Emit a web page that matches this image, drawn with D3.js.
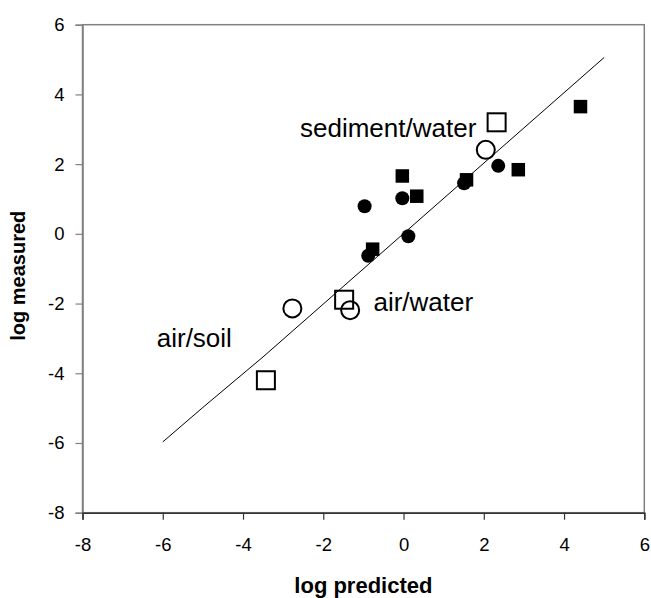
<!DOCTYPE html>
<html>
<head>
<meta charset="utf-8">
<script src="https://cdn.jsdelivr.net/npm/d3@7"></script>
<style>
  html, body { margin: 0; padding: 0; background: #fff; }
  svg { display: block; font-family: Arial, "Liberation Sans", sans-serif; }
</style>
</head>
<body>
<svg id="chart" width="651" height="598"></svg>
<script>
// Axis ticks
const xTicks = [-8, -6, -4, -2, 0, 2, 4, 6];
const yTicks = [-8, -6, -4, -2, 0, 2, 4, 6];

// Solid markers: squares and circles (log predicted, log measured)
const filledSquareX = [-0.03, 0.33, -0.77, 1.57, 2.86, 4.41];
const filledSquareY = [1.66, 1.08, -0.44, 1.55, 1.84, 3.65];
const filledCircleX = [-0.97, -0.03, 0.12, -0.88, 1.51, 2.36];
const filledCircleY = [0.79, 1.02, -0.07, -0.63, 1.45, 1.95];

// Open markers: partition coefficients
const openSquareX = [2.32, -1.48, -3.43];
const openSquareY = [3.20, -1.89, -4.20];
const openCircleX = [2.05, -2.77, -1.33];
const openCircleY = [2.41, -2.14, -2.19];

// Fitted line vertices
const lineX = [-6, -5, -3.5, 5];
const lineY = [-5.97, -4.98, -3.53, 5.06];

// Annotation labels
const labelText = ["sediment/water", "air/water", "air/soil"];
const labelX = [-2.58, -0.75, -6.15];
const labelY = [2.79, -2.22, -3.26];

const svg = d3.select("#chart");
const plotLeft = 82.5, plotRight = 644.3, plotTop = 24.7, plotBottom = 512.7;

const x = d3.scaleLinear().domain([-8, 6]).range([plotLeft, plotRight]);
const y = d3.scaleLinear().domain([-8, 6]).range([plotBottom, plotTop]);
const tickFmt = d => String(d);

svg.append("rect").attr("width", 651).attr("height", 598).attr("fill", "#fff");

// Plot frame
svg.append("rect")
  .attr("x", plotLeft).attr("y", plotTop)
  .attr("width", plotRight - plotLeft).attr("height", plotBottom - plotTop)
  .attr("fill", "none").attr("stroke", "#808080").attr("stroke-width", 1.5);

// Y axis
const yAxis = svg.append("g")
  .attr("transform", `translate(${plotLeft},0)`)
  .call(d3.axisLeft(y).tickValues(yTicks).tickSize(7).tickPadding(11).tickFormat(tickFmt));
yAxis.select(".domain").attr("stroke", "#808080").attr("stroke-width", 1.5);
yAxis.selectAll(".tick line").attr("stroke", "#808080").attr("stroke-width", 1.2);
yAxis.selectAll(".tick text").attr("font-size", 18.5).attr("fill", "#000")
  .attr("font-family", "Arial, 'Liberation Sans', sans-serif");

// X axis
const xAxis = svg.append("g")
  .attr("transform", `translate(0,${plotBottom})`)
  .call(d3.axisBottom(x).tickValues(xTicks).tickSize(7).tickPadding(18).tickFormat(tickFmt));
xAxis.select(".domain").attr("stroke", "#333").attr("stroke-width", 1.5);
xAxis.selectAll(".tick line").attr("stroke", "#333").attr("stroke-width", 1.2);
xAxis.selectAll(".tick text").attr("font-size", 18.5).attr("fill", "#000")
  .attr("font-family", "Arial, 'Liberation Sans', sans-serif");

// Axis titles
svg.append("text")
  .attr("x", (plotLeft + plotRight) / 2).attr("y", 593)
  .attr("text-anchor", "middle").attr("font-weight", "bold").attr("font-size", 22)
  .text("log predicted");
svg.append("text")
  .attr("transform", `translate(25,${(plotTop + plotBottom) / 2 + 7}) rotate(-90)`)
  .attr("text-anchor", "middle").attr("font-weight", "bold").attr("font-size", 20)
  .text("log measured");

// Fitted line
const linePts = lineX.map((d, i) => [d, lineY[i]]);
svg.append("path")
  .datum(linePts)
  .attr("d", d3.line().x(d => x(d[0])).y(d => y(d[1])))
  .attr("fill", "none").attr("stroke", "#000").attr("stroke-width", 1);

// Filled circles
svg.append("g").selectAll("circle")
  .data(filledCircleX.map((d, i) => [d, filledCircleY[i]]))
  .join("circle")
  .attr("cx", d => x(d[0])).attr("cy", d => y(d[1])).attr("r", 7)
  .attr("fill", "#000");

// Filled squares
const fs = 13.5;
svg.append("g").selectAll("rect")
  .data(filledSquareX.map((d, i) => [d, filledSquareY[i]]))
  .join("rect")
  .attr("x", d => x(d[0]) - fs / 2).attr("y", d => y(d[1]) - fs / 2)
  .attr("width", fs).attr("height", fs)
  .attr("fill", "#000");

// Open squares
const os = 18;
svg.append("g").selectAll("rect")
  .data(openSquareX.map((d, i) => [d, openSquareY[i]]))
  .join("rect")
  .attr("x", d => x(d[0]) - os / 2).attr("y", d => y(d[1]) - os / 2)
  .attr("width", os).attr("height", os)
  .attr("fill", "none").attr("stroke", "#000").attr("stroke-width", 2);

// Open circles
svg.append("g").selectAll("circle")
  .data(openCircleX.map((d, i) => [d, openCircleY[i]]))
  .join("circle")
  .attr("cx", d => x(d[0])).attr("cy", d => y(d[1])).attr("r", 9)
  .attr("fill", "none").attr("stroke", "#000").attr("stroke-width", 2);

// Labels
svg.append("g").selectAll("text")
  .data(labelText.map((t, i) => ({ t, x: labelX[i], y: labelY[i] })))
  .join("text")
  .attr("x", d => x(d.x)).attr("y", d => y(d.y))
  .attr("font-size", 26).attr("fill", "#000")
  .text(d => d.t);
</script>
</body>
</html>
